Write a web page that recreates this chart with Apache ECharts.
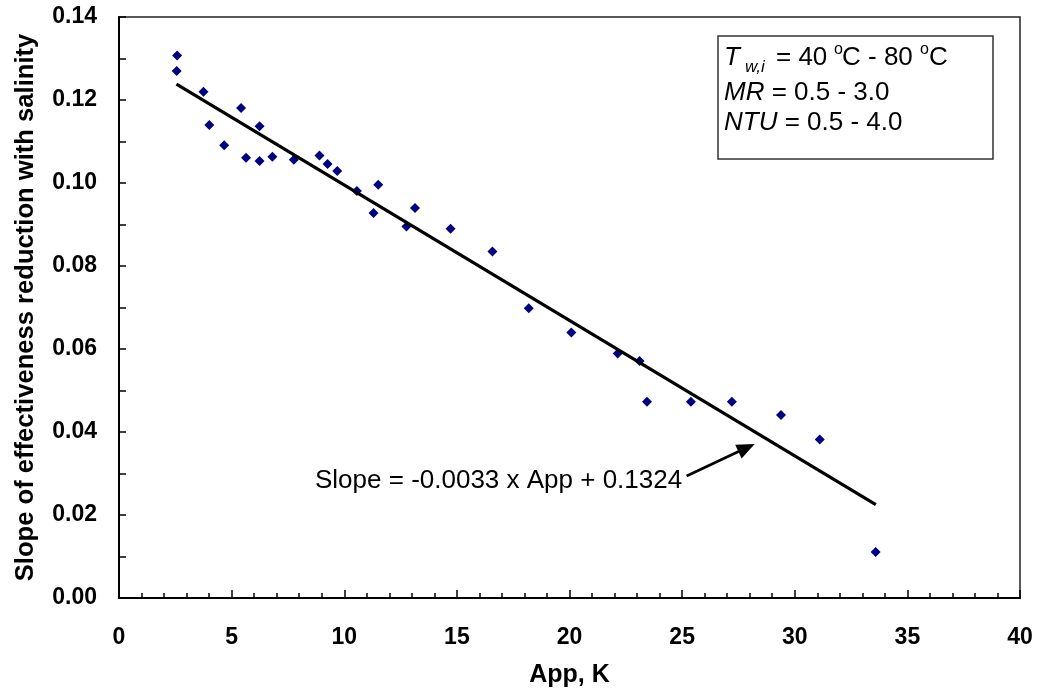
<!DOCTYPE html>
<html>
<head>
<meta charset="utf-8">
<script src="https://cdn.jsdelivr.net/npm/echarts@6/dist/echarts.min.js"></script>
<style>
  html, body { margin: 0; padding: 0; background: #fff; }
  #chart { width: 1040px; height: 700px; }
</style>
</head>
<body>
<div id="chart"></div>
<script>
// Data
const appK = [2.58, 2.56, 3.75, 4.01, 4.67, 5.42, 5.64, 6.24, 6.24, 6.81, 7.76, 8.90, 9.26, 9.69,
              10.56, 11.51, 11.30, 12.76, 13.14, 14.72, 16.58, 18.19, 20.08, 22.14, 23.11, 23.44,
              25.39, 27.21, 29.39, 31.11, 33.59];
const slopeVals = [0.1307, 0.1270, 0.1220, 0.1140, 0.1091, 0.1181, 0.1061, 0.1137, 0.1053, 0.1063,
                   0.1056, 0.1066, 0.1046, 0.1029, 0.0981, 0.0996, 0.0928, 0.0895, 0.0940, 0.0890,
                   0.0835, 0.0698, 0.0640, 0.0589, 0.0571, 0.0473, 0.0473, 0.0473, 0.0441, 0.0382,
                   0.0111];
const trendX = [2.55, 33.6];
const trendY = [0.1238, 0.0225];
const arrowFrom = [25.2, 0.0294];
const arrowTo = [27.86, 0.0362];
const xTitle = 'App, K';
const yTitle = 'Slope of effectiveness reduction with salinity';
const eqText = 'Slope = -0.0033 x App + 0.1324';

const FONT = '"Liberation Sans", Arial, Helvetica, sans-serif';

const points = appK.map((x, i) => [x, slopeVals[i]]);
const trend = trendX.map((x, i) => [x, trendY[i]]);

const chart = echarts.init(document.getElementById('chart'), null, { renderer: 'canvas' });

const txt = (x, y, text, size, italic) => ({
  type: 'text', x: x, y: y, z: 100,
  style: {
    text: text, fill: '#000', fontSize: size, fontFamily: FONT,
    fontStyle: italic ? 'italic' : 'normal', verticalAlign: 'middle', align: 'left'
  }
});

chart.setOption({
  animation: false,
  backgroundColor: '#fff',
  grid: {
    left: 119, right: 20, top: 17, bottom: 102,
    show: true, borderColor: '#222', borderWidth: 1.5, backgroundColor: 'transparent'
  },
  xAxis: {
    type: 'value', min: 0, max: 40, interval: 5,
    axisLine: { show: true, onZero: false, lineStyle: { color: '#000', width: 2 } },
    axisTick: { show: true, inside: true, length: 8, lineStyle: { color: '#000', width: 1.5 } },
    minorTick: { show: true, splitNumber: 5, length: 5, lineStyle: { color: '#000', width: 1.5 } },
    splitLine: { show: false },
    minorSplitLine: { show: false },
    axisLabel: { fontSize: 23, fontWeight: 'bold', color: '#000', margin: 28, fontFamily: FONT },
    name: xTitle, nameLocation: 'middle', nameGap: 65,
    nameTextStyle: { fontSize: 25, fontWeight: 'bold', color: '#000', fontFamily: FONT }
  },
  yAxis: {
    type: 'value', min: 0, max: 0.14, interval: 0.02,
    axisLine: { show: true, onZero: false, lineStyle: { color: '#000', width: 2 } },
    axisTick: { show: true, inside: true, length: 7, lineStyle: { color: '#000', width: 1.5 } },
    minorTick: { show: true, splitNumber: 2, length: 7, lineStyle: { color: '#000', width: 1.5 } },
    splitLine: { show: false },
    minorSplitLine: { show: false },
    axisLabel: {
      fontSize: 23, fontWeight: 'bold', color: '#000', margin: 22, fontFamily: FONT,
      formatter: v => v.toFixed(2)
    },
    name: yTitle, nameLocation: 'middle', nameGap: 80,
    nameTextStyle: { fontSize: 25.6, fontWeight: 'bold', color: '#000', fontFamily: FONT }
  },
  series: [
    {
      type: 'scatter', data: points, symbol: 'diamond', symbolSize: 10,
      itemStyle: { color: '#000080', opacity: 1 }, z: 2, silent: true
    },
    {
      type: 'line', data: trend, showSymbol: false, symbol: 'none',
      lineStyle: { color: '#000', width: 3.2 }, z: 3, silent: true,
      markLine: {
        silent: true, animation: false,
        symbol: ['none', 'triangle'], symbolSize: [15, 18],
        label: { show: false },
        itemStyle: { color: '#000' },
        lineStyle: { color: '#000', width: 2.6, type: 'solid' },
        data: [[{ coord: arrowFrom }, { coord: arrowTo }]]
      }
    }
  ],
  graphic: [
    { type: 'rect', z: 90, shape: { x: 718, y: 36, width: 275, height: 123 },
      style: { fill: '#fff', stroke: '#333', lineWidth: 1.5 } },
    txt(724, 58, 'T', 26, true),
    txt(745, 67, 'w,i', 17, true),
    txt(776, 58, '= 40', 26, false),
    txt(834, 50, 'o', 16, false),
    txt(842, 58, 'C - 80', 26, false),
    txt(920, 50, 'o', 16, false),
    txt(929, 58, 'C', 26, false),
    {
      type: 'text', x: 724, y: 93, z: 100,
      style: {
        text: '{i|MR} = 0.5 - 3.0', fill: '#000', fontSize: 26, fontFamily: FONT,
        verticalAlign: 'middle', align: 'left',
        rich: { i: { fontStyle: 'italic', fontSize: 26, fontFamily: FONT, fill: '#000' } }
      }
    },
    {
      type: 'text', x: 724, y: 123, z: 100,
      style: {
        text: '{i|NTU} = 0.5 - 4.0', fill: '#000', fontSize: 26, fontFamily: FONT,
        verticalAlign: 'middle', align: 'left',
        rich: { i: { fontStyle: 'italic', fontSize: 26, fontFamily: FONT, fill: '#000' } }
      }
    },
    txt(315, 481, eqText, 26, false)
  ]
});
</script>
</body>
</html>
